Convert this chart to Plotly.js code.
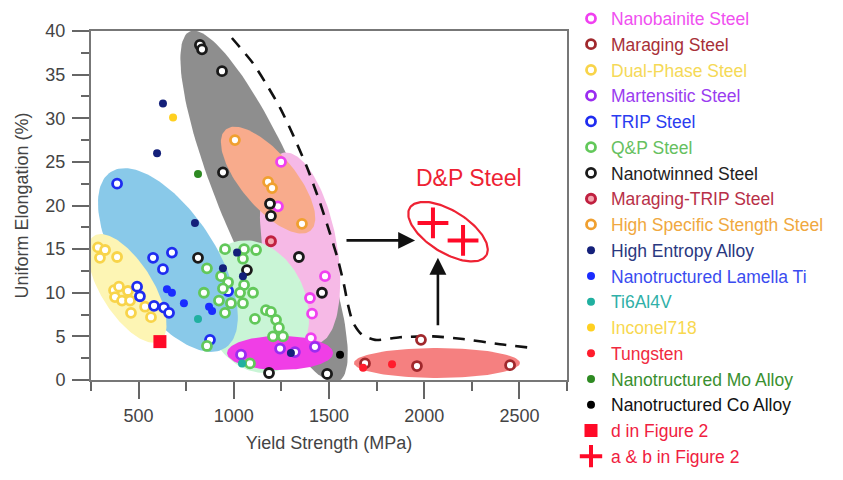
<!DOCTYPE html>
<html><head><meta charset="utf-8">
<script src="https://cdn.plot.ly/plotly-3.0.1.min.js"></script>
<style>html,body{margin:0;padding:0;background:#fff}#chart{width:843px;height:480px}</style>
</head><body><div id="chart"></div>
<script>
// ---------------- data ----------------
const nanobainiteX = [1248, 1232, 1479, 1400, 1411, 1405];
const nanobainiteY = [25.0, 19.9, 11.9, 9.4, 7.6, 4.8];
const maragingX = [1689, 1983, 1962, 2451];
const maragingY = [1.9, 4.6, 1.6, 1.7];
const dualPhaseX = [287, 324, 297, 387, 371, 397, 444, 376, 413, 455, 460, 534, 565];
const dualPhaseY = [15.2, 14.9, 14.0, 14.1, 10.3, 10.7, 10.2, 9.5, 9.1, 9.1, 7.7, 8.4, 7.2];
const martensiticX = [1038, 1243, 1321, 1426];
const martensiticY = [2.9, 3.6, 3.2, 3.8];
const tripX = [387, 576, 675, 628, 492, 507, 581, 633, 660, 875, 970];
const tripY = [22.5, 14.0, 14.6, 12.7, 10.7, 9.6, 8.5, 8.3, 7.7, 4.6, 10.2];
const qpX = [954, 1054, 1117, 1048, 859, 933, 970, 943, 1054, 843, 922, 985, 1048, 1101, 1033, 954, 1111, 1169, 1195, 1222, 1237, 1206, 1258, 859, 1085];
const qpY = [15.0, 15.0, 14.9, 13.9, 12.8, 11.9, 11.2, 10.5, 10.9, 10.0, 9.1, 8.8, 8.8, 10.0, 10.0, 7.7, 7.0, 8.0, 7.8, 6.9, 6.0, 5.0, 5.0, 3.9, 1.9];
const nanotwinnedX = [822, 833, 938, 943, 1190, 1195, 1342, 1463, 1069, 812, 1185, 1490];
const nanotwinnedY = [38.4, 37.9, 35.4, 23.8, 20.2, 18.8, 14.1, 10.0, 12.6, 14.0, 0.8, 0.7];
const maragingTripX = [1195];
const maragingTripY = [15.9];
const hssX = [1006, 1180, 1201, 1358];
const hssY = [27.5, 22.7, 22.0, 17.9];
const heaX = [628, 597, 796, 1017, 943, 1048, 1300];
const heaY = [31.7, 26.0, 18.0, 14.6, 12.8, 11.9, 3.1];
const lamellaTiX = [649, 675, 738, 870, 886];
const lamellaTiY = [10.4, 10.0, 8.8, 8.4, 7.9];
const ti64X = [812, 1043];
const ti64Y = [7.0, 1.9];
const inconelX = [681];
const inconelY = [30.1];
const tungstenX = [1679, 1831];
const tungstenY = [1.4, 1.8];
const moAlloyX = [812];
const moAlloyY = [23.6];
const coAlloyX = [1558];
const coAlloyY = [2.9];
const figDX = [612];
const figDY = [4.4];
const figABX = [2046, 2204];
const figABY = [18.0, 16.0];

// dashed envelope
const boundaryX = [990, 1101, 1174, 1243, 1311, 1384, 1453, 1505, 1547, 1579, 1600, 1626, 1673, 1742, 1873, 2046, 2204, 2398, 2556];
const boundaryY = [39.2, 36.3, 33.8, 31.2, 28.1, 24.4, 20.3, 16.8, 13.8, 10.9, 8.6, 6.6, 5.2, 4.6, 4.9, 5.0, 4.7, 4.1, 3.7];

// shaded regions (centre in data units)
const regionCX = [1159, 1348, 1180, 1111, 654, 439, 1243, 2067];
const regionCY = [19.9, 15.1, 22.9, 8.4, 13.75, 10.5, 3.1, 1.95];
const dpCX = 2125, dpCY = 17.0;

// ---------------- layout constants ----------------
const W = 843, H = 480, M = {l: 91, r: 276, t: 31, b: 100, autoexpand: false};
const xRange = [250, 2750], yRange = [0, 40];
const kx = (W - M.l - M.r) / (xRange[1] - xRange[0]);
const ky = (H - M.t - M.b) / (yRange[1] - yRange[0]);
const FONT = 'Liberation Sans, Arial, Helvetica, sans-serif';

// region shapes: semi-axes (px), rotation (deg, clockwise on screen), fill
const regionA = [190, 97, 66, 68, 105, 62, 53, 83];
const regionB = [42, 37, 27, 52, 48, 26, 17, 15];
const regionAng = [67, 80, 50, 70, 57, 58, 0, 0];
const regionFill = ['#8e8e8e', '#f6b9e6', '#f8ab8c', '#c9f5d6', '#89c9e9', '#fdf5b4', '#f03ee6', '#f58080'];

function ellipse(cx, cy, a, b, angDeg) {
  const xs = [], ys = [], phi = angDeg * Math.PI / 180;
  for (let i = 0; i <= 144; i++) {
    const t = 2 * Math.PI * i / 144;
    const u = a * Math.cos(t), v = b * Math.sin(t);
    const dx = u * Math.cos(phi) - v * Math.sin(phi);
    const dy = u * Math.sin(phi) + v * Math.cos(phi);
    xs.push(cx + dx / kx); ys.push(cy - dy / ky);
  }
  return {xs, ys};
}

const traces = [];
for (let i = 0; i < regionCX.length; i++) {
  const e = ellipse(regionCX[i], regionCY[i], regionA[i], regionB[i], regionAng[i]);
  traces.push({type: 'scatter', mode: 'lines', x: e.xs, y: e.ys, fill: 'toself',
    fillcolor: regionFill[i], line: {width: 0, color: regionFill[i]}, showlegend: false, hoverinfo: 'skip'});
}
traces.push({type: 'scatter', mode: 'lines', x: boundaryX, y: boundaryY, showlegend: false, hoverinfo: 'skip',
  line: {color: '#111', width: 2.6, dash: '12px,9px', shape: 'spline', smoothing: 0.7}});
const dp = ellipse(dpCX, dpCY, 45, 21, 32);
traces.push({type: 'scatter', mode: 'lines', x: dp.xs, y: dp.ys, showlegend: false, hoverinfo: 'skip',
  line: {color: '#ee2233', width: 2.2}});

function lab(name, c) { return '<span style="color:' + c + '">' + name + '</span>'; }
function ring(name, color, xs, ys, tc) {
  return {type: 'scatter', mode: 'markers', x: xs, y: ys, name: lab(name, tc || color),
    marker: {symbol: 'circle', size: 9, color: '#ffffff', line: {color: color, width: 2.8}}};
}
function dot(name, color, xs, ys, tc) {
  return {type: 'scatter', mode: 'markers', x: xs, y: ys, name: lab(name, tc || color),
    marker: {symbol: 'circle', size: 8, color: color, line: {width: 0}}};
}

traces.push(ring('Nanobainite Steel', '#f040f0', nanobainiteX, nanobainiteY, '#f050f0'));
traces.push(ring('Maraging Steel', '#a0282c', maragingX, maragingY, '#a83038'));
traces.push(ring('Dual-Phase Steel', '#f8d44a', dualPhaseX, dualPhaseY, '#f5d957'));
traces.push(ring('Martensitic Steel', '#9a2cf0', martensiticX, martensiticY, '#9a3cf0'));
traces.push(ring('TRIP Steel', '#1f2cf0', tripX, tripY, '#2a3cf0'));
traces.push(ring('Q&amp;P Steel', '#62c85a', qpX, qpY, '#66c060'));
traces.push(ring('Nanotwinned Steel', '#1a1a1a', nanotwinnedX, nanotwinnedY, '#222222'));
traces.push({type: 'scatter', mode: 'markers', x: maragingTripX, y: maragingTripY, name: lab('Maraging-TRIP Steel', '#b83048'),
  marker: {symbol: 'circle', size: 9, color: '#f3a6b0', line: {color: '#c02040', width: 3}}});
traces.push(ring('High Specific Stength Steel', '#f0a030', hssX, hssY, '#f0a840'));
traces.push(dot('High Entropy Alloy', '#14207a', heaX, heaY, '#2a3880'));
traces.push(dot('Nanotructured Lamella Ti', '#1a2cff', lamellaTiX, lamellaTiY, '#3a4cf0'));
traces.push(dot('Ti6Al4V', '#20b0a0', ti64X, ti64Y, '#30b0a8'));
traces.push(dot('Inconel718', '#ffd020', inconelX, inconelY, '#f8d850'));
traces.push(dot('Tungsten', '#ff1c2c', tungstenX, tungstenY, '#f02a40'));
traces.push(dot('Nanotructured Mo Alloy', '#2e8a22', moAlloyX, moAlloyY, '#3a9030'));
traces.push(dot('Nanotructured Co Alloy', '#000000', coAlloyX, coAlloyY, '#111111'));
traces.push({type: 'scatter', mode: 'markers', x: figDX, y: figDY, name: lab('d in Figure 2', '#f02040'),
  marker: {symbol: 'square', size: 13, color: '#ff0a28', line: {width: 0}}});
traces.push({type: 'scatter', mode: 'markers', x: figABX, y: figABY, name: lab('a &amp; b in Figure 2', '#f02040'),
  marker: {symbol: 'cross-thin', size: 22, color: '#ff0a28', line: {color: '#ff0a28', width: 4}}});

// arrows (tail -> head, data units) and label
const arrowTailX = [1584, 2072], arrowTailY = [16.0, 6.1];
const arrowHeadX = [1952, 2072], arrowHeadY = [16.0, 14.0];
const annotations = [];
for (let i = 0; i < arrowTailX.length; i++) {
  annotations.push({x: arrowHeadX[i], y: arrowHeadY[i], ax: arrowTailX[i], ay: arrowTailY[i],
    xref: 'x', yref: 'y', axref: 'x', ayref: 'y', text: '', showarrow: true,
    arrowhead: 2, arrowsize: 1.3, arrowwidth: 2.6, arrowcolor: '#111'});
}
annotations.push({x: 2235, y: 23.1, xref: 'x', yref: 'y', text: 'D&amp;P Steel', showarrow: false,
  font: {family: FONT, size: 23, color: '#ee2233'}});

const axisCommon = {
  showgrid: false, zeroline: false, showline: true, linecolor: '#777', linewidth: 2, mirror: true,
  ticks: 'outside', ticklen: 17, tickwidth: 2, tickcolor: '#666',
  tickfont: {family: FONT, size: 18, color: '#444'}
};

const layout = {
  width: W, height: H, margin: M, paper_bgcolor: '#fff', plot_bgcolor: '#fff',
  font: {family: FONT, size: 18, color: '#444'},
  xaxis: Object.assign({}, axisCommon, {range: xRange, tick0: 0, dtick: 500, ticklabelstandoff: 1,
    minor: {dtick: 250, ticks: 'outside', ticklen: 9, tickwidth: 2, tickcolor: '#666'},
    title: {text: 'Yield Strength (MPa)', standoff: 12, font: {family: FONT, size: 18, color: '#444'}}}),
  yaxis: Object.assign({}, axisCommon, {range: yRange, tick0: 0, dtick: 5, ticklabelstandoff: 3,
    minor: {dtick: 2.5, ticks: 'outside', ticklen: 8, tickwidth: 2, tickcolor: '#666'},
    title: {text: 'Uniform Elongation (%)', standoff: 12, font: {family: FONT, size: 18, color: '#444'}}}),
  legend: {x: (571 - M.l) / (W - M.l - M.r), xanchor: 'left', y: 1 + (M.t - 0.5) / (H - M.t - M.b), yanchor: 'top', maxheight: 620,
    font: {family: FONT, size: 17.5}, bgcolor: 'rgba(0,0,0,0)', tracegroupgap: 0},
  annotations: annotations,
  showlegend: true
};

Plotly.newPlot('chart', traces, layout, {displayModeBar: false, staticPlot: true});
</script>
</body></html>
